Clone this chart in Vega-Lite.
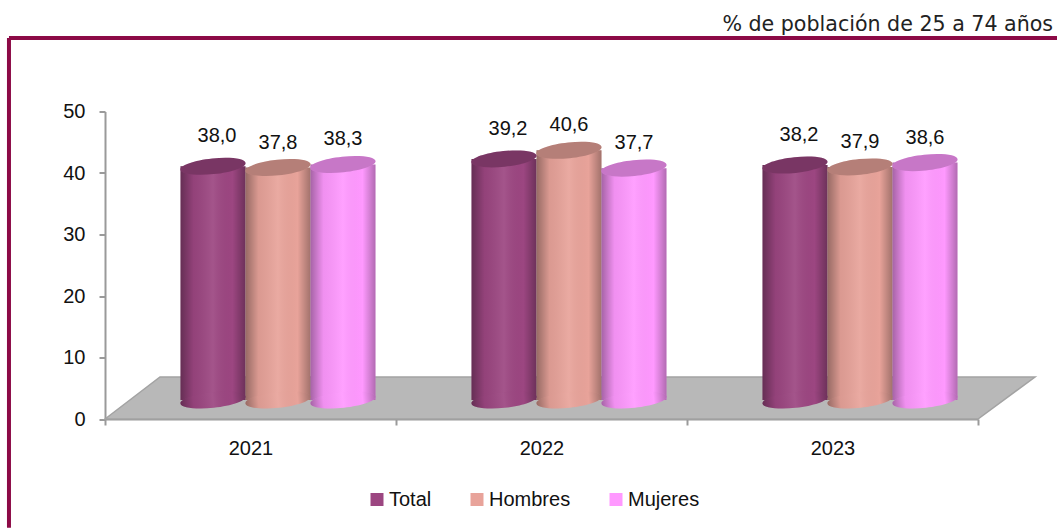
{
"$schema":"https://vega.github.io/schema/vega-lite/v6.json",
"width":873,"height":307.5,
"autosize":{"type":"none"},
"padding":{"left":105,"top":111.5,"right":79,"bottom":109},
"background":"white",
"config":{"view":{"stroke":null},"font":"Liberation Sans"},
"datasets":{
"survey":[
{"year":"2021","serie":"Total","value":38.0,"label":"38,0"},
{"year":"2021","serie":"Hombres","value":37.8,"label":"37,8"},
{"year":"2021","serie":"Mujeres","value":38.3,"label":"38,3"},
{"year":"2022","serie":"Total","value":39.2,"label":"39,2"},
{"year":"2022","serie":"Hombres","value":40.6,"label":"40,6"},
{"year":"2022","serie":"Mujeres","value":37.7,"label":"37,7"},
{"year":"2023","serie":"Total","value":38.2,"label":"38,2"},
{"year":"2023","serie":"Hombres","value":37.9,"label":"37,9"},
{"year":"2023","serie":"Mujeres","value":38.6,"label":"38,6"}
],
"floor":[
{"u":0,"top":0,"bottom":0},
{"u":0.189,"top":6.83,"bottom":0},
{"u":3,"top":6.83,"bottom":0},
{"u":3.196,"top":6.83,"bottom":6.83}
],
"frame":[
{"u":-0.33,"u2":3.28,"v":61.95,"v2":61.95},
{"u":-0.33,"u2":-0.33,"v":61.95,"v2":-17.7}
],
"note":[
{"u":3.258,"v":63.1,"text":"% de población de 25 a 74 años"}
]
},
"resolve":{"scale":{"x":"independent","y":"independent"},"axis":{"x":"independent","y":"independent"}},
"layer":[
{"layer":[
{"data":{"name":"floor"},"mark":{"type":"area","fill":"#b8b8b8","stroke":"#a3a3a3","strokeWidth":1.5},
"encoding":{"x":{"field":"u","type":"quantitative","scale":{"domain":[0,3],"nice":false,"zero":false},"axis":null},
"y":{"field":"top","type":"quantitative","scale":{"domain":[0,50],"nice":false},"axis":null},"y2":{"field":"bottom"}}},
{"data":{"name":"frame"},"mark":{"type":"rule","color":"#8c0a46","strokeWidth":4},
"encoding":{"x":{"field":"u","type":"quantitative"},"x2":{"field":"u2"},"y":{"field":"v","type":"quantitative"},"y2":{"field":"v2"}}},
{"data":{"name":"note"},"mark":{"type":"text","align":"right","baseline":"alphabetic","font":"DejaVu Sans","fontSize":20.6,"color":"#222222"},
"encoding":{"x":{"field":"u","type":"quantitative"},"y":{"field":"v","type":"quantitative"},"text":{"field":"text"}}}
]},
{"data":{"name":"survey"},"mark":{"type":"bar","opacity":0},
"encoding":{"x":{"field":"year","type":"nominal","scale":{"paddingInner":0,"paddingOuter":0},
"axis":{"orient":"bottom","title":null,"labelAngle":0,"labelFontSize":20,"labelColor":"#111111","labelPadding":13,"tickBand":"extent","tickSize":6,"tickColor":"#9a9a9a","tickWidth":2,"domainColor":"#9a9a9a","domainWidth":2,"grid":false}},
"y":{"field":"value","type":"quantitative","scale":{"domain":[0,50],"nice":false},
"axis":{"orient":"left","title":null,"values":[0,10,20,30,40,50],"labelFontSize":20,"labelColor":"#111111","labelPadding":14,"tickSize":6,"tickColor":"#9a9a9a","tickWidth":2,"domainColor":"#9a9a9a","domainWidth":2,"grid":false}}}},
{"data":{"name":"survey"},
"encoding":{
"x":{"field":"year","type":"nominal","scale":{"range":[27.5,900.5],"paddingInner":0.33,"paddingOuter":0.165},"axis":null},
"xOffset":{"field":"serie","type":"nominal","sort":["Total","Hombres","Mujeres"],"scale":{"padding":0}},
"y":{"field":"value","type":"quantitative","scale":{"domain":[0,50],"nice":false,"range":[288.5,-19]},"axis":null}
},
"layer":[
{"mark":{"type":"bar"},
"encoding":{"color":{"field":"serie","type":"nominal","sort":["Total","Hombres","Mujeres"],"scale":{"domain":["Total","Hombres","Mujeres"],"range":["#9c4681","#e8a39a","#ff99ff"]},
"legend":{"title":null,"orient":"none","legendX":262,"legendY":378,"direction":"horizontal","columns":3,"columnPadding":35,"symbolType":"square","symbolSize":169,"labelFontSize":20,"labelColor":"#111111","labelOffset":2}}}},
{"mark":{"type":"bar","color":{"gradient":"linear","x1":0,"y1":0,"x2":1,"y2":0,"stops":[{"offset":0,"color":"rgba(0,0,0,0.35)"},{"offset":0.2,"color":"rgba(0,0,0,0.06)"},{"offset":0.5,"color":"rgba(255,255,255,0.08)"},{"offset":0.8,"color":"rgba(0,0,0,0)"},{"offset":1,"color":"rgba(0,0,0,0.3)"}]}}},
{"mark":{"type":"point","filled":true,"opacity":1,"shape":"M-1,0A1,0.24 0 1,1 1,0A1,0.24 0 1,1 -1,0Z","size":4290,"angle":-6},
"encoding":{"y":{"datum":0,"type":"quantitative"},"color":{"field":"serie","type":"nominal"}}},
{"mark":{"type":"point","filled":true,"opacity":1,"color":{"gradient":"linear","x1":0,"y1":0,"x2":1,"y2":0,"stops":[{"offset":0,"color":"rgba(0,0,0,0.35)"},{"offset":0.2,"color":"rgba(0,0,0,0.06)"},{"offset":0.5,"color":"rgba(255,255,255,0.08)"},{"offset":0.8,"color":"rgba(0,0,0,0)"},{"offset":1,"color":"rgba(0,0,0,0.3)"}]},"shape":"M-1,0A1,0.24 0 1,1 1,0A1,0.24 0 1,1 -1,0Z","size":4290,"angle":-6},
"encoding":{"y":{"datum":0,"type":"quantitative"}}},
{"mark":{"type":"point","filled":true,"opacity":1,"shape":"M-1,0A1,0.24 0 1,1 1,0A1,0.24 0 1,1 -1,0Z","size":4290,"angle":-6},
"encoding":{"color":{"field":"serie","type":"nominal"}}},
{"mark":{"type":"point","filled":true,"opacity":0.22,"color":"#000000","shape":"M-1,0A1,0.24 0 1,1 1,0A1,0.24 0 1,1 -1,0Z","size":4290,"angle":-6}},
{"transform":[{"filter":"datum.serie === 'Total'"}],"mark":{"type":"text","dy":-30,"dx":4,"fontSize":20,"color":"#111111"},"encoding":{"text":{"field":"label"}}},
{"transform":[{"filter":"datum.serie !== 'Total'"}],"mark":{"type":"text","dy":-25,"fontSize":20,"color":"#111111"},"encoding":{"text":{"field":"label"}}}
]}
]
}
